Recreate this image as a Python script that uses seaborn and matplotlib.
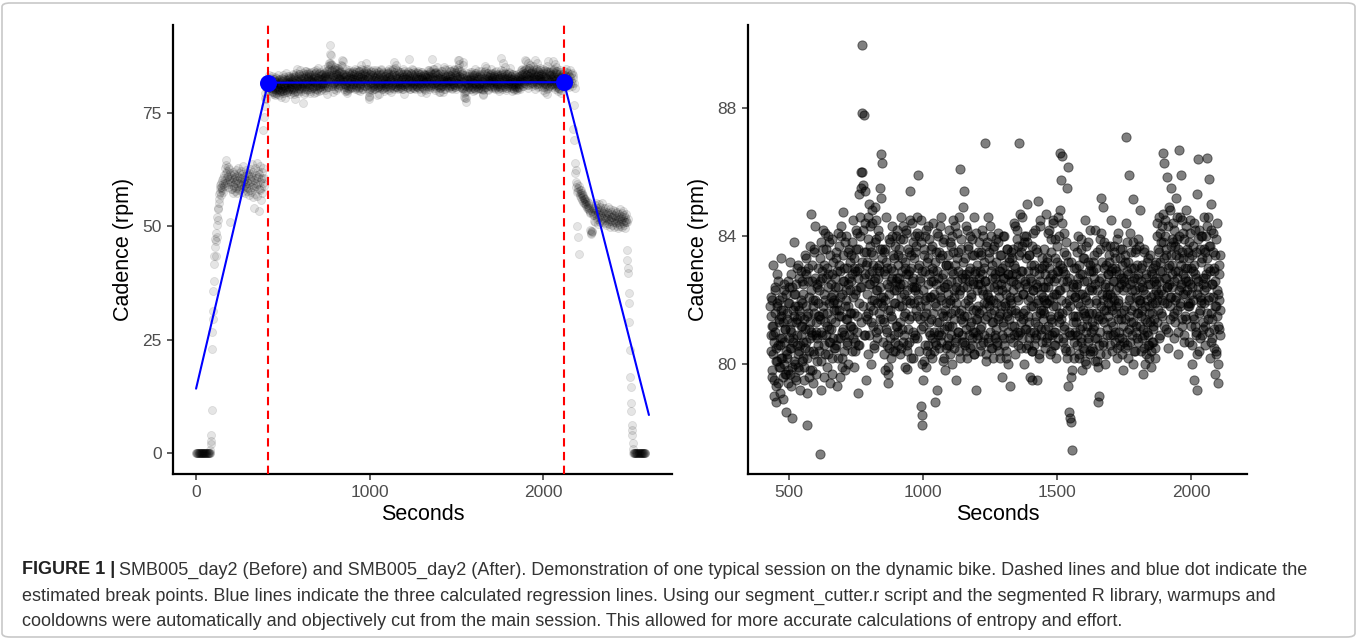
import numpy as np
import pandas as pd
import matplotlib
matplotlib.use('Agg')
import matplotlib.pyplot as plt
import seaborn as sns
from matplotlib.patches import FancyBboxPatch

# ---- data ----
step = 2

# warmup: cadence every 2 s starting at 0 s
warmup_start = 0
warmup_rpm = [0] * 41 + [
    0.7, 2.0, 2.7, 4.0, 9.5, 22.9, 26.6, 29.5, 31.2, 35.7, 37.9, 41.6, 43.4, 45.5, 47.2,
    43.5, 46.8, 48.5, 47.6, 50.2, 52.1, 51.4, 53.8, 54.0,
    55.2, 57.1, 56.0, 58.3, 57.5, 59.0, 56.8, 58.7, 59.6, 57.9, 60.2, 58.4, 59.3, 57.6, 60.5, 58.9,
    61.2, 59.5, 62.8, 60.1, 63.4, 61.7, 64.5, 60.8, 62.2, 59.7, 61.0, 63.1, 58.6, 60.4, 62.5, 59.2, 50.9, 61.6, 60.0, 58.1,
    59.8, 61.3, 58.2, 60.6, 57.4, 59.1, 62.0, 60.3, 58.7, 61.5, 59.4, 57.8, 60.9, 62.4, 58.5, 59.9, 61.1, 57.2, 60.2, 58.9,
    62.7, 59.6, 60.8, 57.9, 61.8, 59.3, 58.1, 60.5, 62.1, 59.0, 57.6, 60.7, 61.4, 58.4, 59.7, 63.2, 60.1, 58.8, 61.0, 57.3,
    59.5, 60.4, 62.3, 58.6, 59.2, 61.6, 57.7, 60.0, 58.3, 61.2,
    59.4, 61.7, 56.9, 60.3, 58.0, 62.5, 59.9, 57.5, 61.0, 63.6, 58.6, 60.8, 56.4, 59.1, 61.9, 54.0, 60.2, 58.3, 62.9, 59.6,
    57.1, 61.3, 60.5, 58.8, 63.8, 59.3, 56.6, 60.9, 62.2, 58.1, 53.4, 61.5, 59.8, 57.9, 63.3, 60.4, 58.5, 55.8, 62.0, 60.7,
    57.3, 59.5,
    71.1, 62.8, 74.0, 58.9, 60.6, 76.5, 78.2, 79.4, 77.9, 80.6, 81.3, 80.2, 82.5, 81.0, 79.8, 82.1, 80.9, 83.2, 81.5, 80.4,
    82.7, 81.8,
]

# main session (the "After" panel), even seconds from 430 s
main_start = 430
main_rpm_even = [
    81.8, 80.4, 82.1, 79.6, 81.2, 83.1, 80.9, 79.0, 81.6, 82.3, 80.1, 78.8, 81.9, 82.8, 80.6, 79.4, 81.3, 82.0, 80.8, 79.9,
    81.5, 83.3, 80.2, 78.9, 81.7, 82.5, 80.7, 79.7, 81.1, 82.2,
    78.5, 81.4, 80.3, 82.6, 79.8, 81.9, 83.2, 80.5, 79.3, 81.0, 82.4, 78.3, 80.8, 81.7, 83.8, 80.1, 79.6, 82.2, 81.3, 80.6,
    83.0, 79.9, 81.8, 82.7, 80.4, 79.2, 81.5, 82.9, 80.9, 81.2,
    81.9, 80.2, 82.5, 79.5, 83.4, 81.1, 80.7, 82.8, 79.1, 78.1, 81.6, 83.0, 80.4, 82.1, 79.8, 81.3, 84.7, 80.9, 82.6, 79.4,
    81.8, 83.6, 80.3, 82.0, 84.3, 81.0, 79.7, 82.4, 80.8, 81.5,
    80.6, 82.3, 77.2, 81.4, 83.8, 79.2, 82.7, 80.9, 84.2, 81.6, 79.6, 83.1, 82.0, 80.3, 83.6, 81.2, 79.9, 82.8, 84.0, 80.7,
    81.9, 83.4, 79.4, 82.5, 81.1, 80.2, 83.9, 82.2, 80.8, 81.7,
    82.4, 80.5, 83.3, 81.7, 79.3, 82.9, 84.1, 80.8, 81.5, 83.7, 79.6, 82.1, 84.3, 81.0, 80.2, 84.75, 82.6, 80.9, 83.0, 81.8,
    79.8, 82.3, 84.0, 80.6, 81.4, 83.5, 80.0, 82.7, 81.2, 83.2,
    81.6, 83.4, 80.4, 82.8, 84.5, 81.1, 79.9, 83.0, 82.2, 80.7, 84.2, 81.5, 82.9, 79.1, 83.6, 85.3, 80.6, 82.4, 84.0, 86.0,
    81.3, 89.97, 87.85, 85.6, 82.7, 87.8, 85.4, 80.9, 83.5, 79.5,
    83.2, 81.4, 84.6, 80.3, 82.5, 85.0, 81.8, 83.7, 80.0, 82.9, 84.4, 81.2, 83.4, 82.0, 80.6, 84.9, 82.7, 81.0, 83.9, 82.3,
    80.8, 84.2, 81.6, 83.1, 85.5, 82.4, 86.56, 81.9, 86.3, 83.6,
    82.1, 80.7, 83.5, 81.3, 79.8, 82.8, 84.6, 81.0, 83.0, 79.7, 79.4, 82.4, 80.5, 83.8, 81.7, 82.6, 80.2, 84.3, 81.4, 82.9,
    80.9, 83.3, 81.9, 80.4, 82.3, 84.0, 81.2, 82.7, 80.6, 83.4,
    81.8, 83.6, 80.3, 82.5, 84.6, 81.1, 82.9, 80.7, 83.9, 82.2, 81.5, 79.9, 83.2, 82.0, 84.2, 80.6, 79.85, 82.8, 81.4, 83.5,
    85.4, 81.9, 80.2, 83.0, 82.4, 84.4, 81.0, 82.7, 80.8, 83.3,
    82.3, 80.9, 83.7, 81.5, 84.1, 82.0, 85.9, 80.4, 83.1, 81.8, 82.6, 84.5, 78.7, 78.4, 78.1, 81.2, 83.4, 80.1, 82.9, 84.0,
    81.6, 79.9, 83.2, 82.1, 80.6, 84.3, 81.3, 82.8, 80.3, 83.6,
    81.4, 83.0, 80.2, 82.6, 84.4, 81.0, 82.2, 78.8, 80.7, 83.5, 81.8, 79.2, 82.9, 84.0, 81.3, 80.5, 83.3, 82.1, 80.9, 84.6,
    81.6, 82.7, 80.1, 83.8, 81.1, 82.4, 79.8, 83.1, 81.9, 80.6,
    82.5, 80.8, 83.4, 81.2, 84.2, 82.0, 80.3, 83.7, 81.6, 82.9, 80.0, 84.5, 81.4, 82.3, 80.7, 83.1, 81.9, 79.5, 82.6, 84.1,
    81.0, 83.5, 80.4, 82.2, 86.1, 81.7, 83.9, 80.9, 82.8, 81.3,
    83.2, 81.5, 85.4, 80.6, 82.7, 84.3, 81.1, 82.4, 80.2, 83.6, 81.8, 82.9, 80.5, 84.0, 81.3, 82.1, 80.8, 83.4, 82.6, 81.0,
    84.6, 80.3, 82.8, 81.7, 79.2, 83.1, 81.4, 82.5, 80.9, 83.8,
    81.6, 82.9, 80.4, 83.5, 81.2, 84.2, 82.3, 80.7, 83.0, 81.9, 86.9, 82.6, 80.1, 83.7, 81.5, 82.2, 84.6, 80.8, 81.8, 83.3,
    82.0, 80.5, 84.0, 81.3, 82.7, 80.2, 83.6, 81.7, 82.4, 80.9,
    82.8, 81.1, 83.9, 80.6, 82.3, 84.1, 81.5, 82.9, 80.2, 83.4, 81.8, 82.5, 79.6, 83.0, 81.3, 82.7, 80.8, 84.0, 81.9, 82.2,
    80.4, 83.6, 81.6, 82.8, 80.0, 83.2, 81.4, 79.3, 82.1, 83.5,
    81.9, 83.3, 80.7, 82.6, 84.4, 81.2, 83.0, 80.3, 82.8, 81.6, 84.2, 82.1, 80.9, 83.7, 86.9, 82.4, 81.0, 83.5, 80.5, 82.9,
    84.6, 81.4, 82.2, 80.0, 83.8, 81.7, 82.5, 84.0, 81.1, 85.0,
    82.0, 80.6, 83.4, 81.3, 79.6, 82.7, 81.8, 83.1, 80.4, 79.5, 82.3, 84.1, 81.0, 82.9, 80.8, 83.6, 81.5, 79.5, 82.4, 85.1,
    81.2, 83.0, 80.2, 82.6, 84.3, 81.7, 80.9, 83.3, 82.1, 81.4,
    83.1, 81.6, 82.4, 80.5, 84.7, 81.9, 83.3, 80.8, 82.6, 81.2, 84.2, 82.0, 80.3, 83.5, 81.4, 82.8, 80.9, 84.5, 81.8, 82.2,
    80.6, 83.9, 81.0, 82.7, 80.2, 83.2, 81.5, 82.9, 84.0, 81.3,
    86.6, 82.3, 85.75, 81.4, 86.5, 83.0, 80.7, 82.6, 84.1, 81.1, 82.8, 80.4, 83.4, 81.7, 85.5, 86.15, 79.3, 82.0, 78.5, 80.9,
    78.3, 83.2, 78.2, 77.3, 81.5, 82.4, 80.2, 83.7, 81.0, 82.1,
    81.3, 83.0, 80.6, 82.5, 81.9, 84.0, 80.2, 82.8, 81.1, 83.6, 80.8, 82.2, 79.8, 81.7, 83.3, 80.4, 82.6, 81.5, 84.5, 80.0,
    82.0, 81.2, 83.8, 80.7, 82.9, 81.6, 80.3, 83.1, 82.4, 81.0,
    82.3, 80.5, 83.2, 81.1, 82.7, 80.1, 84.2, 81.6, 82.0, 80.8, 83.5, 78.8, 81.4, 79.0, 82.6, 80.3, 83.9, 81.8, 85.2, 82.2,
    84.9, 80.6, 83.0, 81.3, 82.5, 80.0, 83.7, 81.7, 82.1, 80.9,
    82.8, 81.5, 83.4, 80.9, 82.2, 84.5, 81.8, 83.0, 80.4, 82.6, 81.2, 83.7, 82.0, 80.7, 83.3, 81.6, 82.9, 80.2, 84.1, 81.9,
    82.4, 81.0, 83.6, 80.6, 82.7, 81.4, 83.1, 80.8, 82.3, 79.8,
    81.7, 83.2, 80.5, 87.1, 82.4, 81.0, 83.8, 80.2, 82.8, 81.5, 85.9, 82.1, 80.7, 83.5, 81.3, 82.6, 85.15, 80.0, 83.0, 81.8,
    82.3, 80.4, 83.6, 81.2, 82.7, 80.8, 83.9, 81.6, 82.0, 84.8,
    81.2, 82.6, 80.4, 83.1, 81.7, 79.7, 82.3, 80.9, 83.5, 81.4, 80.0, 82.8, 81.0, 82.0, 80.6, 83.3, 81.8, 80.2, 82.5, 81.3,
    79.9, 82.9, 81.6, 80.7, 83.0, 81.1, 82.2, 80.5, 81.9, 82.7,
    82.5, 84.0, 81.3, 83.6, 82.2, 84.6, 80.8, 83.2, 82.9, 81.6, 84.3, 82.0, 86.6, 83.8, 81.9, 86.3, 82.7, 84.5, 81.1, 83.4,
    82.4, 85.85, 80.5, 83.0, 84.9, 82.1, 81.4, 85.5, 83.7, 82.8,
    83.1, 81.5, 84.4, 82.6, 80.8, 83.7, 82.0, 85.2, 81.7, 83.9, 82.9, 80.3, 86.7, 83.3, 81.9, 84.6, 82.4, 85.9, 81.2, 83.5,
    82.2, 84.1, 80.9, 83.0, 82.7, 81.4, 84.8, 82.3, 83.6, 81.8,
    82.6, 80.7, 83.8, 81.9, 84.5, 82.2, 80.0, 83.4, 81.5, 82.9, 79.5, 83.1, 81.2, 84.2, 82.7, 81.0, 79.2, 85.3, 86.4, 82.4,
    80.4, 83.6, 81.7, 84.0, 82.0, 80.9, 83.3, 82.5, 81.3, 84.6,
    81.9, 83.5, 80.6, 82.8, 84.3, 86.45, 81.4, 83.0, 85.8, 82.1, 80.2, 83.7, 81.6, 85.0, 82.5, 80.8, 84.1, 81.1, 82.9, 79.7,
    83.4, 81.8, 80.4, 82.3, 84.4, 81.2, 79.4, 83.1, 82.0, 80.9,
]

# main session, odd seconds from 431 s
main_rpm_odd = [
    80.9, 81.5, 79.8, 82.0, 80.3, 81.2, 79.5, 80.7, 82.4, 81.0, 79.3, 80.5, 81.8, 80.1, 82.6, 79.9, 81.4, 80.6, 79.1, 81.7,
    80.2, 82.1, 80.8, 79.6, 81.3, 80.0, 82.3, 81.1, 79.7, 80.4,
    81.6, 80.2, 79.4, 81.9, 80.8, 82.4, 79.7, 81.1, 80.5, 82.8, 81.3, 79.9, 80.7, 82.2, 81.5, 80.0, 81.8, 79.5, 82.5, 80.9,
    81.4, 80.3, 83.1, 81.7, 79.8, 80.6, 82.0, 81.2, 80.1, 82.6,
    80.7, 82.2, 81.4, 79.9, 82.9, 80.5, 81.8, 83.3, 80.2, 81.5, 82.6, 79.6, 81.1, 83.7, 80.8, 82.3, 81.0, 83.1, 79.8, 82.0,
    80.4, 81.6, 83.5, 82.7, 80.9, 81.3, 82.5, 80.1, 83.0, 81.9,
    81.5, 80.4, 82.6, 83.3, 81.0, 80.1, 82.9, 81.8, 83.6, 80.6, 82.2, 81.3, 84.1, 80.9, 82.7, 81.6, 83.0, 80.3, 82.4, 81.1,
    83.8, 80.7, 82.1, 81.4, 79.7, 82.8, 81.9, 83.2, 80.5, 82.0,
    81.3, 82.7, 80.6, 83.5, 81.9, 82.4, 80.2, 83.1, 81.7, 82.9, 80.8, 84.0, 81.5, 82.2, 79.9, 83.4, 81.1, 82.6, 80.4, 83.8,
    82.0, 81.4, 83.0, 80.7, 82.5, 81.8, 83.6, 80.9, 82.3, 81.6,
    82.6, 81.2, 83.8, 80.8, 82.1, 83.3, 81.6, 82.9, 80.4, 83.6, 82.3, 81.0, 84.1, 82.7, 80.6, 83.0, 81.9, 84.6, 82.4, 85.5,
    83.2, 86.0, 84.2, 81.8, 83.5, 80.9, 82.8, 84.4, 81.5, 83.1,
    82.2, 83.9, 81.6, 82.8, 80.9, 84.3, 82.5, 81.3, 83.5, 82.0, 84.8, 81.7, 83.1, 82.6, 80.5, 83.8, 82.3, 84.5, 81.9, 83.0,
    82.7, 81.1, 84.0, 82.9, 81.4, 83.6, 85.2, 82.1, 83.3, 81.8,
    81.4, 82.9, 80.3, 83.6, 82.0, 81.1, 83.2, 80.6, 82.5, 79.9, 81.7, 83.9, 82.2, 80.8, 83.0, 81.5, 84.0, 82.7, 80.4, 83.4,
    81.9, 82.3, 80.7, 83.7, 81.2, 82.6, 84.2, 81.0, 83.1, 82.4,
    82.7, 81.3, 83.9, 82.1, 80.5, 83.3, 81.8, 84.3, 82.5, 80.9, 83.0, 81.6, 82.8, 84.1, 80.4, 82.3, 83.6, 81.1, 82.9, 80.7,
    84.5, 82.0, 83.4, 81.5, 82.6, 80.2, 83.8, 81.9, 82.4, 84.0,
    83.5, 81.7, 82.4, 84.6, 80.8, 83.0, 82.2, 84.0, 81.4, 82.7, 83.8, 81.1, 80.0, 82.9, 79.5, 82.3, 81.5, 83.6, 80.6, 82.0,
    84.2, 81.8, 80.4, 83.3, 82.5, 81.0, 83.9, 82.1, 80.9, 82.6,
    82.1, 80.8, 83.7, 81.6, 82.9, 80.4, 83.2, 81.9, 82.5, 80.6, 84.1, 81.3, 82.7, 80.9, 83.5, 81.0, 82.3, 84.3, 80.7, 82.0,
    83.4, 81.5, 82.8, 80.2, 83.9, 81.7, 82.4, 80.5, 83.1, 81.2,
    81.5, 83.1, 82.2, 80.6, 83.8, 81.9, 82.6, 80.9, 84.0, 81.2, 82.8, 83.5, 80.5, 82.1, 81.7, 84.3, 82.4, 80.8, 83.3, 81.0,
    82.9, 81.6, 84.6, 82.3, 80.2, 83.6, 81.4, 82.7, 80.7, 84.9,
    82.4, 80.7, 83.3, 81.9, 82.8, 80.4, 84.2, 81.5, 82.0, 83.7, 80.9, 82.6, 81.2, 83.0, 82.2, 80.6, 83.9, 81.7, 82.5, 80.3,
    83.4, 81.0, 82.9, 84.1, 81.4, 80.8, 82.3, 83.5, 81.8, 82.7,
    82.5, 81.1, 83.4, 80.6, 82.8, 81.7, 84.0, 82.2, 80.9, 83.2, 81.4, 82.6, 80.3, 83.8, 81.9, 82.1, 80.7, 83.5, 82.4, 81.0,
    84.3, 81.6, 82.9, 80.5, 83.1, 82.0, 81.3, 83.7, 80.8, 82.7,
    81.9, 83.2, 80.7, 82.5, 81.4, 83.8, 82.1, 80.4, 82.9, 81.6, 83.4, 80.9, 82.3, 84.0, 81.2, 82.7, 80.6, 83.1, 81.8, 82.4,
    80.2, 83.6, 81.5, 82.8, 81.0, 83.3, 80.8, 82.0, 81.7, 82.6,
    82.8, 81.2, 83.6, 82.3, 80.9, 83.1, 81.7, 84.3, 82.5, 81.0, 83.9, 82.0, 80.6, 83.4, 81.5, 82.7, 84.7, 81.3, 82.9, 80.8,
    83.7, 82.2, 81.6, 84.0, 82.6, 81.1, 83.3, 80.5, 82.4, 83.8,
    81.5, 82.9, 80.8, 83.4, 82.1, 81.0, 82.6, 80.4, 83.7, 81.8, 82.3, 80.6, 83.1, 81.3, 84.2, 82.5, 80.9, 81.9, 83.5, 82.0,
    80.3, 82.8, 81.6, 84.5, 82.2, 81.1, 83.0, 80.7, 82.4, 81.7,
    82.0, 83.6, 81.1, 82.8, 80.7, 83.2, 81.9, 84.1, 82.4, 80.9, 83.0, 81.5, 82.7, 80.4, 83.9, 82.1, 81.3, 84.4, 82.6, 81.0,
    83.3, 80.6, 82.2, 81.8, 83.7, 82.9, 80.8, 84.6, 81.6, 82.3,
    84.8, 83.1, 82.0, 84.4, 81.6, 82.9, 80.8, 83.5, 81.2, 82.4, 80.5, 83.8, 81.9, 82.6, 80.2, 83.2, 81.0, 82.7, 80.4, 81.8,
    79.6, 82.2, 80.9, 79.8, 82.5, 81.3, 83.0, 80.7, 82.1, 81.5,
    82.4, 80.9, 83.5, 81.5, 82.7, 80.3, 83.1, 81.8, 82.2, 80.7, 83.9, 81.2, 82.8, 80.5, 83.3, 81.6, 82.1, 80.1, 83.7, 81.0,
    82.6, 81.4, 83.2, 80.8, 82.3, 81.9, 84.2, 80.4, 82.9, 81.3,
    81.6, 82.9, 80.4, 83.4, 81.2, 82.5, 80.8, 83.0, 81.9, 80.1, 82.3, 79.9, 81.5, 80.6, 83.6, 81.0, 82.7, 84.1, 81.4, 83.2,
    82.0, 80.7, 83.8, 81.7, 82.4, 80.3, 83.1, 82.2, 81.1, 82.8,
    81.9, 83.2, 82.4, 80.6, 83.7, 81.3, 82.9, 81.7, 82.1, 80.9, 83.5, 82.6, 81.0, 83.0, 81.8, 82.3, 80.5, 83.9, 82.0, 81.4,
    82.8, 80.8, 83.3, 81.6, 82.5, 80.3, 83.6, 81.2, 82.7, 80.7,
    82.6, 81.4, 83.4, 84.4, 81.8, 82.9, 80.6, 83.2, 82.0, 81.1, 84.1, 82.5, 81.7, 83.0, 80.9, 82.3, 83.8, 81.3, 82.7, 80.4,
    83.5, 82.1, 81.0, 83.1, 81.6, 82.8, 80.7, 83.7, 82.4, 81.9,
    82.0, 81.5, 83.0, 80.8, 82.4, 81.1, 83.6, 80.5, 82.2, 81.8, 80.3, 82.7, 81.3, 83.2, 80.9, 82.5, 81.6, 80.6, 83.4, 82.1,
    80.4, 81.9, 82.8, 81.2, 80.7, 82.6, 81.4, 83.1, 80.2, 82.3,
    83.2, 82.0, 84.4, 81.7, 83.5, 82.6, 80.9, 84.1, 82.3, 83.8, 81.5, 82.9, 84.7, 82.2, 83.3, 81.2, 84.0, 82.7, 83.6, 81.9,
    82.4, 84.3, 81.0, 83.1, 82.5, 84.8, 81.8, 83.4, 82.1, 83.9,
    82.4, 83.8, 81.6, 84.2, 82.9, 81.3, 83.4, 82.1, 84.6, 82.7, 81.0, 83.6, 82.3, 84.0, 81.8, 83.1, 82.5, 84.5, 81.4, 83.3,
    82.8, 80.7, 83.9, 82.2, 81.5, 84.3, 82.6, 83.0, 81.9, 83.5,
    83.3, 81.8, 82.5, 84.1, 81.2, 83.0, 82.4, 80.6, 83.7, 82.0, 81.4, 84.4, 82.8, 80.9, 83.5, 82.2, 80.3, 83.9, 82.6, 81.6,
    84.2, 82.1, 80.8, 83.2, 81.9, 84.0, 82.7, 81.1, 83.6, 82.3,
    82.7, 81.2, 84.0, 82.4, 83.3, 81.6, 84.6, 82.0, 83.7, 81.0, 82.9, 80.7, 84.2, 82.5, 81.4, 83.5, 82.1, 80.5, 83.0, 81.8,
    82.6, 80.3, 83.9, 81.5, 82.2, 80.0, 82.8, 81.1, 83.4, 81.7,
]

# cooldown: cadence every 2 s starting at 2110 s
cooldown_start = 2110
cooldown_rpm = [
    82.4, 81.0, 83.6, 82.1, 84.2, 80.7, 82.9, 81.5, 83.3, 82.6, 84.5, 81.8, 83.0, 80.9, 82.3, 84.0, 81.4, 83.7, 82.5, 80.6,
    83.1, 81.9, 84.4, 82.8, 81.2, 83.4, 82.0, 80.8, 83.8, 81.6, 82.7,
    71.4, 83.2, 69.0, 81.5, 76.6, 63.9, 80.5, 61.6, 59.8, 62.4, 58.7, 57.5, 50.0,
    59.2, 47.6, 58.5, 57.8, 43.8, 58.9, 57.1, 56.6, 58.0, 57.4, 56.2, 57.9, 56.9, 55.8, 57.3, 56.5, 55.4, 56.8, 55.9, 55.1,
    56.3, 54.8, 55.6, 56.0, 54.5, 55.3, 54.9, 53.9, 55.5, 54.2, 53.7, 54.6, 55.0, 53.5, 54.0, 52.8, 53.2, 49.2, 48.5, 48.9,
    48.3, 48.7, 49.0, 53.4, 52.9, 54.1, 52.5,
    52.4, 53.8, 51.2, 54.6, 52.9, 50.8, 53.5, 55.2, 52.1, 51.6, 54.1, 53.0, 50.4, 52.7, 54.8, 51.9, 53.3, 52.5, 50.9, 54.3,
    53.6, 51.4, 52.2, 55.0, 53.1, 51.0, 52.8, 54.0, 51.7, 50.6, 53.4, 52.0, 51.3, 53.9, 52.6, 50.2, 51.8, 53.2, 52.3, 50.7,
    51.5, 54.2, 52.9, 51.1, 50.5, 52.4, 53.7, 51.6, 49.8, 52.0, 53.0, 51.2, 50.3, 52.7, 51.9, 53.5, 50.8, 51.4, 52.5, 49.9,
    51.0, 53.3, 52.2, 50.6, 51.7, 52.8, 50.1, 51.3, 53.1, 52.0, 49.5, 50.9, 52.6, 51.5, 50.4, 53.8, 51.8, 50.0, 52.3, 51.1,
    49.7, 52.9, 51.6, 50.7, 52.1, 53.4, 51.2, 50.3, 52.4, 51.0, 49.6, 51.9, 52.7, 50.8, 51.4,
    44.7, 50.9, 42.5, 40.7, 51.5, 39.7, 35.2, 33.0, 28.9, 22.7, 16.8, 14.5, 11.0, 9.3, 6.3, 5.2, 3.9, 2.3, 1.0,
] + [0] * 36

# segmented regression fit (break points and line ends)
break_sec = [415, 2120]
break_rpm = [81.6, 81.7]
fit_sec = [0, 415, 2120, 2610]
fit_rpm = [14.2, 81.6, 81.7, 8.4]


def seg(start, vals):
    return pd.DataFrame({'sec': start + step * np.arange(len(vals)), 'rpm': vals})


main = pd.concat([seg(main_start, main_rpm_even), seg(main_start + 1, main_rpm_odd)])
main = main.sort_values('sec')
full = pd.concat([seg(warmup_start, warmup_rpm), main, seg(cooldown_start, cooldown_rpm)])

# ---- figure ----
sns.set_theme(style='ticks')
plt.rcParams['font.family'] = ['Liberation Sans', 'DejaVu Sans']

W, H = 1358, 639
fig = plt.figure(figsize=(W / 100, H / 100), dpi=100)
ax1 = fig.add_axes([173 / W, 1 - 474 / H, 499 / W, 449 / H])
ax2 = fig.add_axes([748 / W, 1 - 474 / H, 499 / W, 449 / H])

# left: before
sns.scatterplot(data=full, x='sec', y='rpm', ax=ax1, color='black', alpha=0.1,
                s=34, linewidth=0.6, edgecolor='black')
for b in break_sec:
    ax1.axvline(b, color='#ff0000', lw=1.5, ls=(0, (4, 2.6)), zorder=3)
for i in range(3):
    ax1.plot(fit_sec[i:i + 2], fit_rpm[i:i + 2], color='#0000ff', lw=1.5, zorder=4)
sns.scatterplot(x=break_sec, y=break_rpm, ax=ax1, color='#0000ff', s=150,
                linewidth=0, zorder=5)
ax1.set_xlim(-133, 2743)
ax1.set_ylim(-4.6, 94.3)
ax1.set_xticks([0, 1000, 2000])
ax1.set_yticks([0, 25, 50, 75])

# right: after
sns.scatterplot(data=main, x='sec', y='rpm', ax=ax2, color='black', alpha=0.5,
                s=44, linewidth=0.7, edgecolor='black')
ax2.set_xlim(347, 2209)
ax2.set_ylim(76.56, 90.6)
ax2.set_xticks([500, 1000, 1500, 2000])
ax2.set_yticks([80, 84, 88])

for ax in (ax1, ax2):
    sns.despine(ax=ax)
    for sp in ('left', 'bottom'):
        ax.spines[sp].set_linewidth(1.6)
        ax.spines[sp].set_color('black')
    ax.tick_params(length=4, width=1.1, color='#333333', labelsize=12.5,
                   labelcolor='#4d4d4d', pad=4)
    ax.set_xlabel('Seconds', fontsize=15.5, color='black', labelpad=3)
    ax.set_ylabel('Cadence (rpm)', fontsize=15.5, color='black', labelpad=6)

# caption
cap_font = ['Liberation Sans Narrow', 'Liberation Sans', 'DejaVu Sans']
cap_lines = [
    'SMB005_day2 (Before) and SMB005_day2 (After). Demonstration of one typical session on the dynamic bike. '
    'Dashed lines and blue dot indicate the',
    'estimated break points. Blue lines indicate the three calculated regression lines. Using our '
    'segment_cutter.r script and the segmented R library, warmups and',
    'cooldowns were automatically and objectively cut from the main session. This allowed for more '
    'accurate calculations of entropy and effort.',
]
cap_y = [570, 596, 621]
x0 = 22 / W
t = fig.text(x0, 1 - cap_y[0] / H, 'FIGURE 1 |', family=cap_font, fontweight='bold',
             fontsize=13, va='center', ha='left', color='#222222')
r = fig.canvas.get_renderer()
bb = t.get_window_extent(r)
fig.text((bb.x1 + 4) / W, 1 - cap_y[0] / H, cap_lines[0], family=cap_font, fontsize=13,
         va='center', ha='left', color='#333333')
for line, y in zip(cap_lines[1:], cap_y[1:]):
    fig.text(x0, 1 - y / H, line, family=cap_font, fontsize=13, va='center', ha='left',
             color='#333333')

frame = FancyBboxPatch((2 / W, 2 / H), 1 - 5 / W, 1 - 5 / H, boxstyle='round,pad=0,rounding_size=0.006',
                       transform=fig.transFigure, fill=False, edgecolor='#c8c8c8', lw=1.2)
fig.patches.append(frame)

fig.savefig('out.png', dpi=100)
